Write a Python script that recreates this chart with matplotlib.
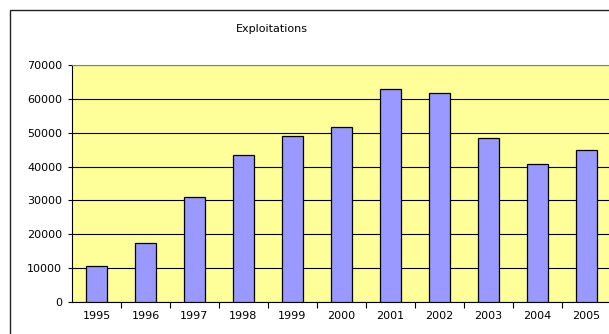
import matplotlib.pyplot as plt
from matplotlib.patches import Rectangle

# Values
years = ["1995", "1996", "1997", "1998", "1999", "2000",
         "2001", "2002", "2003", "2004", "2005"]
exploitations = [10800, 17500, 31000, 43500, 49100, 51600,
                 62900, 61600, 48500, 40700, 44800]
y_ticks = [0, 10000, 20000, 30000, 40000, 50000, 60000, 70000]

plt.rcParams["font.family"] = ["DejaVu Sans"]

W, H = 609, 334
fig = plt.figure(figsize=(W / 100, H / 100), dpi=100)

# outer chart frame (cropped on the right and bottom)
fig.patches.append(Rectangle((10 / W, -0.1), 1.2, (H - 10) / H + 0.1,
                             transform=fig.transFigure, fill=False,
                             edgecolor="#222222", linewidth=1.0))

# plot area position in pixels: x 72..611, y 64.7..302.3
left, right, top, bottom = 72, 611, 64.7, 302.3
ax = fig.add_axes([left / W, (H - bottom) / H,
                   (right - left) / W, (bottom - top) / H])
ax.set_facecolor("#FFFF99")

x = range(len(years))
ax.bar(x, exploitations, width=0.41, color="#9999FF",
       edgecolor="black", linewidth=0.9, zorder=3)

ax.set_xlim(-0.5, len(years) - 0.5)
ax.set_ylim(0, 70000)
ax.set_yticks(y_ticks)
ax.set_yticklabels([str(v) for v in y_ticks], fontsize=8)
ax.set_xticks(list(x))
ax.set_xticklabels(years, fontsize=8)
ax.tick_params(axis="x", length=0, pad=6)
ax.tick_params(axis="y", length=3, width=0.8, pad=4)

# tick marks between categories
ax.set_xticks([i + 0.5 for i in range(len(years) - 1)], minor=True)
ax.tick_params(axis="x", which="minor", length=4, width=0.8)

ax.grid(axis="y", color="black", linewidth=0.8, zorder=1)
ax.set_axisbelow(True)

for side in ["top", "right"]:
    ax.spines[side].set_color("#808080")
ax.spines["left"].set_color("black")
ax.spines["bottom"].set_color("black")

fig.text(272 / W, 1 - 31.5 / H, "Exploitations", ha="center",
         va="baseline", fontsize=8)

fig.savefig("out.png", dpi=100)
